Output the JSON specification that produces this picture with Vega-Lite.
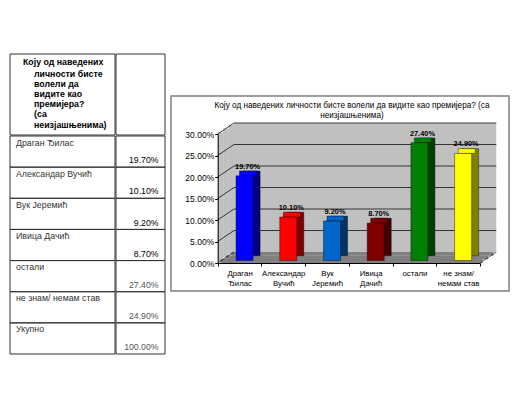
{
  "$schema": "https://vega.github.io/schema/vega-lite/v6.json",
  "background": "white",
  "padding": {"left": 9, "top": 53, "right": 0, "bottom": 0},
  "config": {"font": "Liberation Sans", "view": {"stroke": "#333", "strokeWidth": 1}},
  "datasets": {
    "rows": [
      {"name": "Драган Ђилас", "share": 0.197},
      {"name": "Александар Вучић", "share": 0.101},
      {"name": "Вук Јеремић", "share": 0.092},
      {"name": "Ивица Дачић", "share": 0.087},
      {"name": "остали", "share": 0.274},
      {"name": "не знам/ немам став", "share": 0.249},
      {"name": "Укупно", "share": 1.0}
    ]
  },
  "spacing": 4,
  "hconcat": [
    {
      "spacing": -1,
      "vconcat": [
        {
          "spacing": -1,
          "hconcat": [
            {
              "width": 105, "height": 81,
              "data": {"values": [{}]},
              "view": {"stroke": null},
              "layer": [
                {"mark": {"type": "rect", "fillOpacity": 0, "stroke": "#333", "strokeWidth": 1}, "encoding": {}},
                {"mark": {"type": "text", "align": "left", "baseline": "top", "fontWeight": "bold", "fontSize": 8.8, "color": "#000", "dx": -39.5, "dy": -37},
                 "encoding": {"text": {"value": "Коју од наведених"}}},
                {"mark": {"type": "text", "align": "left", "baseline": "top", "fontWeight": "bold", "fontSize": 8.8, "color": "#000", "dx": -28.5, "dy": -25, "lineHeight": 10.2},
                 "encoding": {"text": {"value": ["личности бисте", "волели да", "видите као", "премијера?", "(са", "неизјашњенима)"]}}}
              ]
            },
            {
              "width": 49, "height": 81,
              "data": {"values": [{}]},
              "view": {"stroke": null},
              "mark": {"type": "rect", "fillOpacity": 0, "stroke": "#333", "strokeWidth": 1},
              "encoding": {}
            }
          ]
        },
        {
          "spacing": -1,
          "hconcat": [
            {
              "width": 105, "height": 218,
              "data": {"name": "rows"},
              "view": {"stroke": null},
              "layer": [
                {"mark": {"type": "rect", "fillOpacity": 0, "stroke": "#333", "strokeWidth": 1},
                 "encoding": {"y": {"field": "name", "type": "nominal", "sort": null, "axis": null, "scale": {"paddingInner": 0, "paddingOuter": 0}}}},
                {"mark": {"type": "text", "align": "left", "baseline": "middle", "fontSize": 8.8, "color": "#333", "dx": -46.5, "dy": 6.5},
                 "encoding": {"y": {"field": "name", "type": "nominal", "sort": null, "bandPosition": 0}, "text": {"field": "name"}}}
              ]
            },
            {
              "width": 49, "height": 218,
              "data": {"name": "rows"},
              "view": {"stroke": null},
              "layer": [
                {"mark": {"type": "rect", "fillOpacity": 0, "stroke": "#333", "strokeWidth": 1},
                 "encoding": {"y": {"field": "name", "type": "nominal", "sort": null, "axis": null, "scale": {"paddingInner": 0, "paddingOuter": 0}}}},
                {"mark": {"type": "text", "align": "right", "baseline": "middle", "fontSize": 8.7, "dx": 18, "dy": 24.3},
                 "encoding": {
                   "y": {"field": "name", "type": "nominal", "sort": null, "bandPosition": 0},
                   "text": {"field": "share", "type": "quantitative", "format": ".2%"},
                   "fontWeight": {"condition": {"test": "indexof(['остали','не знам/ немам став','Укупно'], datum.name) < 0", "value": "bold"}, "value": "normal"},
                   "color": {"condition": {"test": "indexof(['остали','не знам/ немам став','Укупно'], datum.name) < 0", "value": "#000"}, "value": "#555"}
                 }}
              ]
            }
          ]
        }
      ]
    },
    {
      "spacing": 0,
      "vconcat": [
        {
          "width": 338, "height": 41,
          "data": {"values": [{}]},
          "view": {"stroke": null, "fill": "white"},
          "mark": "text",
          "encoding": {"text": {"value": ""}}
        },
        {
          "width": 338, "height": 195,
          "view": {"stroke": "#808080", "strokeWidth": 1.5},
          "title": {"text": ["Коју од наведених  личности  бисте волели да видите као премијера? (са", "неизјашњенима)"], "fontSize": 8.2, "fontWeight": "normal", "color": "#000", "anchor": "middle", "dx": 12, "offset": -24.5, "baseline": "top", "lineHeight": 10.5},
          "data": {"name": "rows"},
          "transform": [{"filter": "datum.name !== 'Укупно'"}],
          "layer": [
            {"data": {"values": [{}]},
             "mark": {"type": "rect", "color": "#c0c0c0", "xOffset": -5.56, "x2Offset": 38.16, "yOffset": -11, "y2Offset": -11},
             "encoding": {
               "x": {"datum": "Драган Ђилас", "type": "nominal",
                     "scale": {"domain": ["Драган Ђилас", "Александар Вучић", "Вук Јеремић", "Ивица Дачић", "остали", "не знам/ немам став"], "range": [46.7, 309], "paddingInner": 0, "paddingOuter": 0},
                     "axis": {"title": null, "labelAngle": 0, "labelAlign": "center", "tickBand": "extent", "offset": -28, "zindex": 1, "domainColor": "#000", "tickColor": "#000", "tickSize": 3, "labelPadding": 3, "labelFontSize": 7.8, "labelColor": "#000", "labelLineHeight": 10, "labelLimit": 60, "labelOverlap": false, "labelBound": false,
                              "labelExpr": "datum.label == 'не знам/ немам став' ? ['не знам/', 'немам став'] : split(datum.label, ' ')"}},
               "x2": {"datum": "не знам/ немам став"},
               "y": {"datum": 0.3, "type": "quantitative",
                     "scale": {"domain": [0, 0.3], "range": [167, 38], "nice": false, "zero": true},
                     "axis": {"title": null, "values": [0, 0.05, 0.1, 0.15, 0.2, 0.25, 0.3], "tickCount": 7, "format": ".2%", "offset": -46.7, "zindex": 1, "grid": false, "domainColor": "#000", "tickColor": "#000", "tickSize": 3, "labelPadding": 1, "labelFontSize": 8.5, "labelColor": "#000", "labelOverlap": false, "labelBound": false}},
               "y2": {"datum": 0}}},
            {"data": {"values": [{}]},
             "mark": {"type": "rect", "color": "#c0c0c0", "xOffset": -21.86, "x2Offset": -16.1, "yOffset": -1.83, "y2Offset": -1.83},
             "encoding": {"x": {"datum": "Драган Ђилас", "type": "nominal"}, "x2": {"datum": "Драган Ђилас"}, "y": {"datum": 0.3, "type": "quantitative"}, "y2": {"datum": 0}}},
            {"data": {"values": [{}]},
             "mark": {"type": "rect", "color": "#c0c0c0", "xOffset": -16.43, "x2Offset": -10.7, "yOffset": -5.5, "y2Offset": -5.5},
             "encoding": {"x": {"datum": "Драган Ђилас", "type": "nominal"}, "x2": {"datum": "Драган Ђилас"}, "y": {"datum": 0.3, "type": "quantitative"}, "y2": {"datum": 0}}},
            {"data": {"values": [{}]},
             "mark": {"type": "rect", "color": "#c0c0c0", "xOffset": -11.0, "x2Offset": -5.4, "yOffset": -9.17, "y2Offset": -9.17},
             "encoding": {"x": {"datum": "Драган Ђилас", "type": "nominal"}, "x2": {"datum": "Драган Ђилас"}, "y": {"datum": 0.3, "type": "quantitative"}, "y2": {"datum": 0}}},
            {"data": {"values": [{}]},
             "mark": {"type": "rect", "color": "#808080", "xOffset": -19.14, "x2Offset": 24.58, "yOffset": -3.9, "y2Offset": 0},
             "encoding": {"x": {"datum": "Драган Ђилас", "type": "nominal"}, "x2": {"datum": "не знам/ немам став"}, "y": {"datum": 0, "type": "quantitative"}, "y2": {"datum": 0}}},
            {"data": {"values": [{}]},
             "mark": {"type": "rect", "color": "#808080", "xOffset": -13.71, "x2Offset": 30.01, "yOffset": -7.55, "y2Offset": -3.67},
             "encoding": {"x": {"datum": "Драган Ђилас", "type": "nominal"}, "x2": {"datum": "не знам/ немам став"}, "y": {"datum": 0, "type": "quantitative"}, "y2": {"datum": 0}}},
            {"data": {"values": [{}]},
             "mark": {"type": "rect", "color": "#808080", "xOffset": -8.28, "x2Offset": 35.44, "yOffset": -11, "y2Offset": -7.33},
             "encoding": {"x": {"datum": "Драган Ђилас", "type": "nominal"}, "x2": {"datum": "не знам/ немам став"}, "y": {"datum": 0, "type": "quantitative"}, "y2": {"datum": 0}}},
            {"data": {"values": [{"g": 0.05}, {"g": 0.1}, {"g": 0.15}, {"g": 0.2}, {"g": 0.25}, {"g": 0.3}]},
             "mark": {"type": "rule", "color": "#111", "strokeWidth": 0.8, "xOffset": -5.56, "x2Offset": 38.16, "yOffset": -11},
             "encoding": {"x": {"datum": "Драган Ђилас", "type": "nominal"}, "x2": {"datum": "не знам/ немам став"}, "y": {"field": "g", "type": "quantitative"}}},
            {"data": {"values": [{"g": 0}, {"g": 0.05}, {"g": 0.1}, {"g": 0.15}, {"g": 0.2}, {"g": 0.25}, {"g": 0.3}]},
             "mark": {"type": "rule", "color": "#111", "strokeWidth": 0.8, "xOffset": -21.86, "x2Offset": -5.56, "y2Offset": -11},
             "encoding": {"x": {"datum": "Драган Ђилас", "type": "nominal"}, "x2": {"datum": "Драган Ђилас"}, "y": {"field": "g", "type": "quantitative"}, "y2": {"field": "g"}}},
            {"data": {"values": [{}]},
             "mark": {"type": "rule", "color": "#333", "strokeWidth": 0.8, "xOffset": 21.86, "x2Offset": 38.16, "y2Offset": -11},
             "encoding": {"x": {"datum": "не знам/ немам став", "type": "nominal"}, "x2": {"datum": "не знам/ немам став"}, "y": {"datum": 0, "type": "quantitative"}, "y2": {"datum": 0}}},
            {"mark": {"type": "bar", "width": {"band": 0.39}, "xOffset": 12, "yOffset": -7.3, "y2Offset": -7.3, "stroke": "#000", "strokeWidth": 0.4},
             "encoding": {
               "x": {"field": "name", "type": "nominal"},
               "y": {"field": "share", "type": "quantitative"},
               "y2": {"datum": 0},
               "fill": {"field": "name", "type": "nominal", "legend": null, "scale": {"domain": ["Драган Ђилас", "Александар Вучић", "Вук Јеремић", "Ивица Дачић", "остали", "не знам/ немам став"], "range": ["#000080", "#800000", "#003366", "#400000", "#004000", "#808000"]}}
             }},
            {"mark": {"type": "bar", "width": {"band": 0.39}, "xOffset": 8.5, "yOffset": -7.3, "y2Offset": -2.5, "stroke": "#000", "strokeWidth": 0.4},
             "encoding": {
               "x": {"field": "name", "type": "nominal"},
               "y": {"field": "share", "type": "quantitative"},
               "y2": {"field": "share"},
               "color": {"field": "name", "type": "nominal", "legend": null}
             }},
            {"mark": {"type": "bar", "width": {"band": 0.39}, "xOffset": 5, "yOffset": -2.5, "y2Offset": -2.5, "stroke": "#000", "strokeWidth": 0.4},
             "encoding": {
               "x": {"field": "name", "type": "nominal", "sort": null},
               "y": {"field": "share", "type": "quantitative"},
               "y2": {"datum": 0},
               "color": {"field": "name", "type": "nominal", "legend": null,
                         "scale": {"domain": ["Драган Ђилас", "Александар Вучић", "Вук Јеремић", "Ивица Дачић", "остали", "не знам/ немам став"], "range": ["#0000ff", "#ff0000", "#0066cc", "#800000", "#008000", "#ffff00"]}}
             }},
            {"mark": {"type": "text", "fontWeight": "bold", "fontSize": 7.4, "dx": 8, "dy": -9.5, "baseline": "alphabetic", "color": "#000"},
             "encoding": {
               "x": {"field": "name", "type": "nominal"},
               "y": {"field": "share", "type": "quantitative"},
               "text": {"field": "share", "type": "quantitative", "format": ".2%"}
             }}
          ]
        }
      ]
    }
  ]
}
